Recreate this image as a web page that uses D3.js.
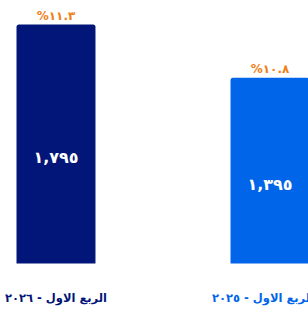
<!DOCTYPE html>
<html><head><meta charset="utf-8">
<script src="https://cdn.jsdelivr.net/npm/d3@7"></script>
<style>html,body{margin:0;padding:0;background:#fff;overflow:hidden}</style>
</head><body>
<svg id="c" width="308" height="311"></svg>
<script>
const categories = ["الربع الاول - ٢٠٢٦", "الربع الاول - ٢٠٢٥"];
const values = [1795, 1395];
const valueLabels = ["١,٧٩٥", "١,٣٩٥"];
const growthLabels = ["١١.٣%", "١٠.٨%"];
const barColors = ["#021579", "#0065e8"];
const labelColors = ["#021579", "#0065e8"];

const svg = d3.select("#c");
const font = "'DejaVu Sans', sans-serif";
const x = d3.scaleBand().domain(categories).range([16.5, 309.5]).paddingInner(0.631).paddingOuter(0);
const y = d3.scaleLinear().domain([0, 1795]).range([263.5, 24.5]);
const r = 2.5;

const g = svg.selectAll("g.bar").data(categories).enter().append("g");
g.append("path")
  .attr("d", (d, i) => {
    const x0 = x(d), x1 = x(d) + x.bandwidth(), y0 = y(values[i]), yb = y(0);
    return `M${x0},${yb}V${y0 + r}Q${x0},${y0} ${x0 + r},${y0}H${x1 - r}Q${x1},${y0} ${x1},${y0 + r}V${yb}Z`;
  })
  .attr("fill", (d, i) => barColors[i]);

g.append("text")
  .attr("x", d => x(d) + x.bandwidth() / 2)
  .attr("y", (d, i) => y(values[i]) - 5)
  .attr("text-anchor", "middle")
  .attr("direction", "rtl")
  .attr("font-family", font).attr("font-weight", "bold").attr("font-size", 12)
  .attr("fill", "#f07f18")
  .text((d, i) => growthLabels[i]);

g.append("text")
  .attr("x", d => x(d) + x.bandwidth() / 2)
  .attr("y", (d, i) => (y(values[i]) + y(0)) / 2 + 19)
  .attr("text-anchor", "middle")
  .attr("direction", "rtl")
  .attr("font-family", font).attr("font-weight", "bold").attr("font-size", 16)
  .attr("fill", "#fff")
  .text((d, i) => valueLabels[i]);

g.append("text")
  .attr("x", (d, i) => x(d) + x.bandwidth() / 2 + (i === 1 ? -7 : 0))
  .attr("y", 302)
  .attr("text-anchor", "middle")
  .attr("direction", "rtl")
  .attr("font-family", font).attr("font-weight", "bold").attr("font-size", 11.5)
  .attr("fill", (d, i) => labelColors[i])
  .text(d => d);
</script>
</body></html>
